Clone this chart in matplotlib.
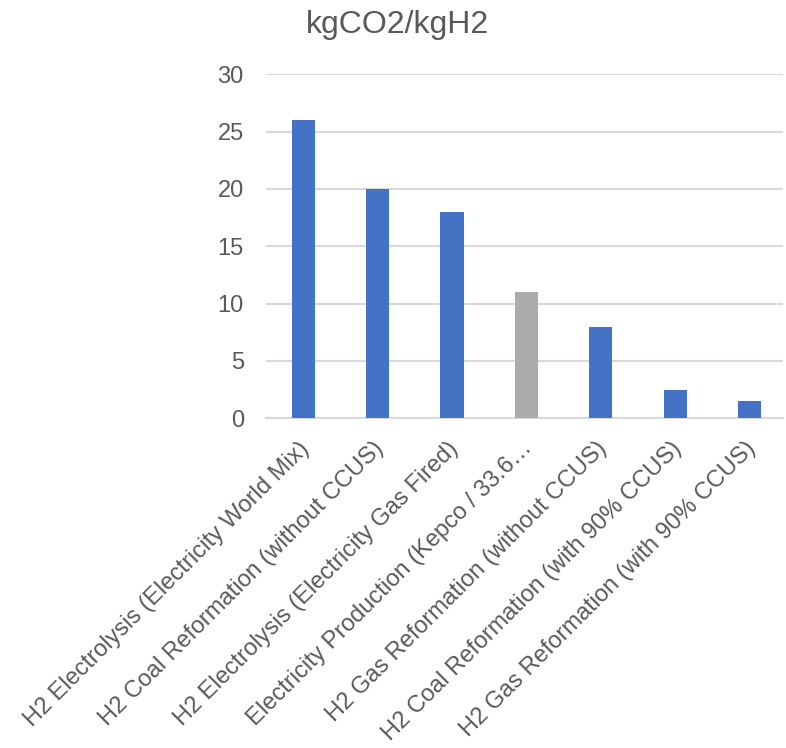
import matplotlib
matplotlib.use("Agg")
import matplotlib.pyplot as plt
from matplotlib.transforms import ScaledTranslation

categories = [
    "H2 Electrolysis (Electricity World Mix)",
    "H2 Coal Reformation (without CCUS)",
    "H2 Electrolysis (Electricity Gas Fired)",
    "Electricity Production (Kepco / 33.6…",
    "H2 Gas Reformation (without CCUS)",
    "H2 Coal Reformation (with 90% CCUS)",
    "H2 Gas Reformation (with 90% CCUS)",
]
values = [26, 20, 18, 11, 8, 2.5, 1.5]
bar_colors = ["#4472C4", "#4472C4", "#4472C4", "#ADAAAA", "#4472C4", "#4472C4", "#4472C4"]
yticks = [0, 5, 10, 15, 20, 25, 30]
title = "kgCO2/kgH2"

plt.rcParams['font.family'] = ['Liberation Sans', 'DejaVu Sans']
fig = plt.figure(figsize=(7.86, 7.48), dpi=100)
ax = fig.add_axes([0.3384, 0.4408, 0.6580, 0.4599])

x = list(range(len(categories)))
ax.bar(x, values, width=0.31, color=bar_colors, zorder=3)
ax.set_xlim(-0.5, 6.45)
ax.set_ylim(0, 30)
ax.set_yticks(yticks)
ax.yaxis.grid(True, color="#D9D9D9", linewidth=1.5, zorder=0)
ax.set_xticks(x)
ax.set_xticklabels(categories, rotation=45, ha="right", rotation_mode="anchor",
                   fontsize=17, color="#595959")
ax.tick_params(axis="y", labelsize=17, labelcolor="#595959", length=0, pad=16)
ax.tick_params(axis="x", length=0, pad=8)
off = ScaledTranslation(-5 / 100, -8 / 100, fig.dpi_scale_trans)
for lbl in ax.get_xticklabels():
    lbl.set_transform(lbl.get_transform() + off)
for s in ["top", "right", "left"]:
    ax.spines[s].set_visible(False)
ax.spines["bottom"].set_color("#D9D9D9")
ax.spines["bottom"].set_linewidth(1.5)
fig.text(0.506, 0.966, title, ha="center", va="center", fontsize=23, color="#595959")
fig.savefig("out.png", dpi=100)
